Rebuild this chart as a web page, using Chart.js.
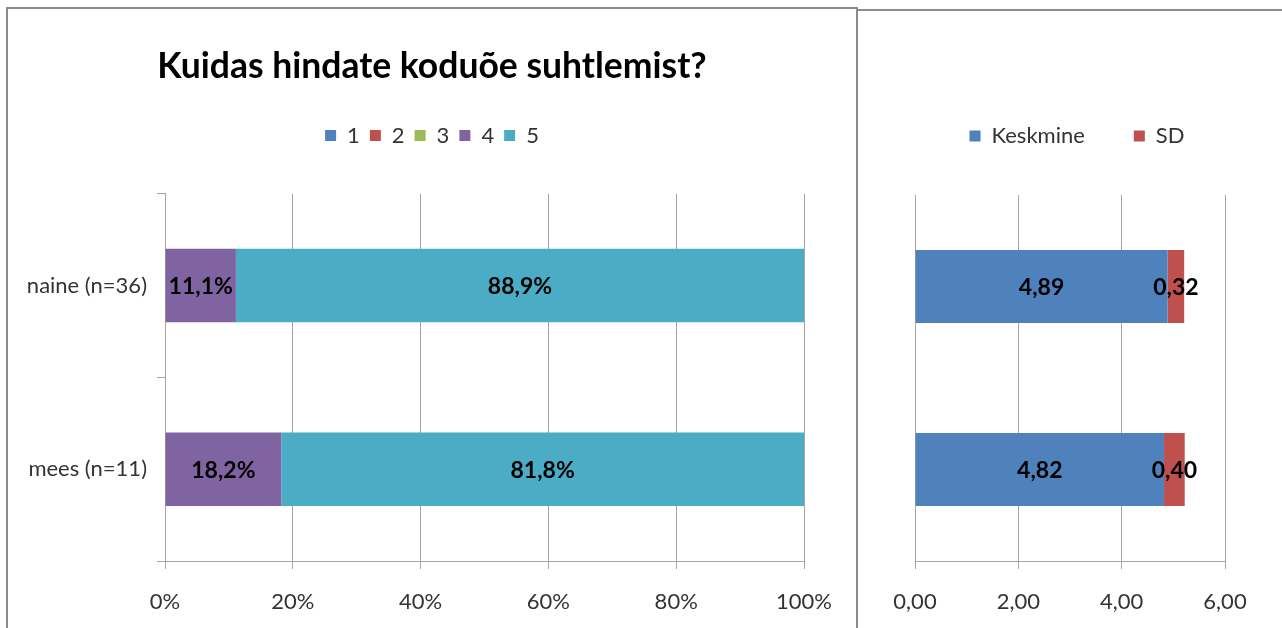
<!DOCTYPE html>
<html>
<head>
<meta charset="utf-8">
<script src="https://cdn.jsdelivr.net/npm/chart.js@4.4.0/dist/chart.umd.min.js"></script>
<style>
  body { margin:0; background:#fff; width:1282px; height:628px; overflow:hidden; position:relative; font-family: Lato, sans-serif; }
  #leftBox { position:absolute; left:6px; top:7px; width:848px; height:640px; border:2px solid #8c8c8c; }
  #rightBox { position:absolute; left:856px; top:9px; width:440px; height:640px; border:2px solid #8c8c8c; }
  #leftBox canvas, #rightBox canvas { position:absolute; left:0; top:0; }
</style>
</head>
<body>
<div id="leftBox"><canvas id="left" width="848" height="619"></canvas></div>
<div id="rightBox"><canvas id="right" width="424" height="617"></canvas></div>
<script>
// data
var groups = ['naine (n=36)', 'mees (n=11)'];
var grades = ['1', '2', '3', '4', '5'];
var grade1 = [0, 0];
var grade2 = [0, 0];
var grade3 = [0, 0];
var grade4 = [11.1, 18.2];
var grade5 = [88.9, 81.8];
var gradeColors = ['#4F81BD', '#C0504D', '#9BBB59', '#8064A2', '#4BACC6'];
var pctTicks = [0, 20, 40, 60, 80, 100];

var meanVals = [4.89, 4.82];
var sdVals = [0.32, 0.40];
var statTicks = [0, 2, 4, 6];

var gridColor = '#a6a6a6';
var fontFam = 'Lato, "Open Sans", sans-serif';

function comma(v, d) {
    return v.toFixed(d).replace('.', ',');
}

// draws value labels in the middle of every bar
function barLabels(fmt) {
    return {
        id: 'barLabels',
        afterDatasetsDraw: function(chart) {
            var ctx = chart.ctx;
            ctx.save();
            ctx.font = 'bold 23px ' + fontFam;
            ctx.fillStyle = '#000';
            ctx.textAlign = 'center';
            ctx.textBaseline = 'middle';
            chart.data.datasets.forEach(function(ds, i) {
                var meta = chart.getDatasetMeta(i);
                meta.data.forEach(function(bar, j) {
                    var v = ds.data[j];
                    if (!v) return;
                    var p = bar.getProps(['x', 'y', 'base'], true);
                    ctx.fillText(fmt(v), (p.x + p.base) / 2, p.y + 1);
                });
            });
            ctx.restore();
        }
    };
}

// extra room under the legend, and title/legend centred over a wider strip
function headerFix(gap, right) {
    return {
        id: 'headerFix',
        beforeInit: function(chart) {
            var fit = chart.legend.fit;
            chart.legend.fit = function() {
                fit.bind(chart.legend)();
                this.height += gap;
            };
        },
        afterLayout: function(chart) {
            [chart.titleBlock, chart.legend].forEach(function(b) {
                if (!b) return;
                b.left = 0;
                b.right = right;
                b.width = right;
            });
        }
    };
}

var gradeData = [grade1, grade2, grade3, grade4, grade5];

new Chart(document.getElementById('left'), {
    type: 'bar',
    data: {
        labels: groups,
        datasets: grades.map(function(g, i) {
            return {
                label: g,
                data: gradeData[i],
                backgroundColor: gradeColors[i],
                categoryPercentage: 1,
                barPercentage: 0.4
            };
        })
    },
    options: {
        indexAxis: 'y',
        responsive: false,
        animation: false,
        layout: { padding: { right: 52, left: 0, top: 0, bottom: 0 } },
        plugins: {
            title: {
                display: true,
                text: 'Kuidas hindate koduõe suhtlemist?',
                color: '#000',
                font: { family: fontFam, size: 35.5, weight: 'bold' },
                padding: { top: 36, bottom: 27 }
            },
            legend: {
                labels: {
                    boxWidth: 11, boxHeight: 11, padding: 10,
                    color: '#333',
                    font: { family: fontFam, size: 22 }
                }
            },
            tooltip: { enabled: false }
        },
        scales: {
            x: {
                stacked: true, min: 0, max: 100,
                afterBuildTicks: function(s) { s.ticks = pctTicks.map(function(v) { return { value: v }; }); },
                afterFit: function(s) { s.height = 67; },
                grid: { color: gridColor, tickLength: 8 },
                border: { color: gridColor },
                ticks: {
                    color: '#333', padding: 20,
                    font: { family: fontFam, size: 22 },
                    callback: function(v) { return v + '%'; }
                }
            },
            y: {
                stacked: true,
                afterFit: function(s) { s.width = 157; },
                grid: { drawOnChartArea: false, tickLength: 8, color: gridColor },
                border: { color: gridColor },
                ticks: { color: '#333', padding: 10, font: { family: fontFam, size: 22 } }
            }
        }
    },
    plugins: [barLabels(function(v) { return comma(v, 1) + '%'; }), headerFix(37, 848)]
});

new Chart(document.getElementById('right'), {
    type: 'bar',
    data: {
        labels: groups,
        datasets: [
            { label: 'Keskmine', data: meanVals, backgroundColor: '#4F81BD', categoryPercentage: 1, barPercentage: 0.4 },
            { label: 'SD', data: sdVals, backgroundColor: '#C0504D', categoryPercentage: 1, barPercentage: 0.4 }
        ]
    },
    options: {
        indexAxis: 'y',
        responsive: false,
        animation: false,
        layout: { padding: { right: 57, left: 0, top: 65, bottom: 0 } },
        plugins: {
            legend: {
                labels: {
                    boxWidth: 11, boxHeight: 11, padding: 49,
                    color: '#333',
                    font: { family: fontFam, size: 22 }
                }
            },
            tooltip: { enabled: false }
        },
        scales: {
            x: {
                stacked: true, min: 0, max: 6,
                afterBuildTicks: function(s) { s.ticks = statTicks.map(function(v) { return { value: v }; }); },
                afterFit: function(s) { s.height = 67; },
                grid: { color: gridColor, tickLength: 8 },
                border: { color: gridColor },
                ticks: {
                    color: '#333', padding: 20,
                    font: { family: fontFam, size: 22 },
                    callback: function(v) { return comma(v, 2); }
                }
            },
            y: {
                stacked: true,
                afterFit: function(s) { s.width = 57; },
                grid: { display: false },
                border: { color: gridColor },
                ticks: { display: false }
            }
        }
    },
    plugins: [barLabels(function(v) { return comma(v, 2); }), headerFix(38, 438)]
});
</script>
</body>
</html>
